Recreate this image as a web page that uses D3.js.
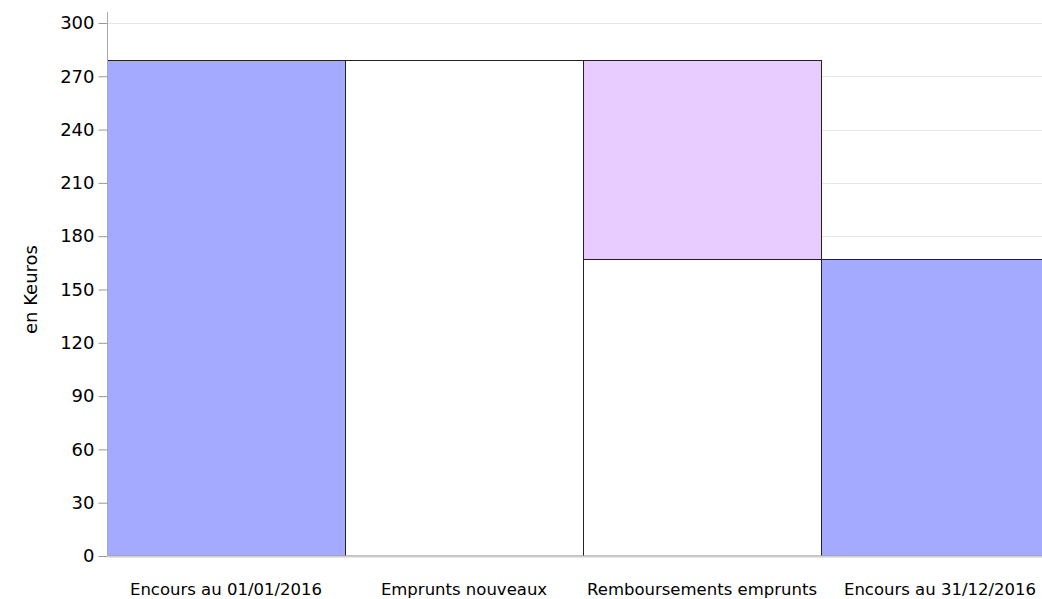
<!DOCTYPE html>
<html>
<head>
<meta charset="utf-8">
<script src="https://cdn.jsdelivr.net/npm/d3@7"></script>
<style>
  body { margin: 0; background: #fff; }
  text { font-family: "DejaVu Sans", sans-serif; fill: #000; }
</style>
</head>
<body>
<div id="chart"></div>
<script>
// data
const categories = ["Encours au 01/01/2016", "Emprunts nouveaux", "Remboursements emprunts", "Encours au 31/12/2016"];
const baseValues = [0, 279, 167, 0];    // white part under each step
const deltaValues = [279, 0, 112, 167]; // coloured part
const barColors = ["#a3aaff", "#ffffff", "#e8ccff", "#a3aaff"];
const yTicks = [0, 30, 60, 90, 120, 150, 180, 210, 240, 270, 300];

const w = 1042;
const h = 599;
const margin = { top: 23, left: 107, bottom: 43 };

const svg = d3.select("#chart")
  .append("svg")
  .attr("width", w)
  .attr("height", h);

const x = d3.scaleBand()
  .domain(categories)
  .range([margin.left, margin.left + 952])
  .padding(0);

const y = d3.scaleLinear()
  .domain([0, 300])
  .range([h - margin.bottom, margin.top]);

// grid
svg.append("g")
  .selectAll("line")
  .data(yTicks.slice(1))
  .join("line")
  .attr("x1", margin.left)
  .attr("x2", w)
  .attr("y1", d => Math.round(y(d)) + 0.5)
  .attr("y2", d => Math.round(y(d)) + 0.5)
  .attr("stroke", "#e6e6e6");

// base bars (white)
svg.append("g")
  .selectAll("rect")
  .data(categories)
  .join("rect")
  .attr("x", d => Math.round(x(d)) + 0.5)
  .attr("width", x.bandwidth())
  .attr("y", (d, i) => Math.round(y(baseValues[i])) + 0.5)
  .attr("height", (d, i) => y(0) - y(baseValues[i]))
  .attr("fill", "#fff")
  .attr("stroke", (d, i) => baseValues[i] > 0 ? "#222" : "none");

// delta bars (coloured)
svg.append("g")
  .selectAll("rect")
  .data(categories)
  .join("rect")
  .attr("x", d => Math.round(x(d)) + 0.5)
  .attr("width", x.bandwidth())
  .attr("y", (d, i) => Math.round(y(baseValues[i] + deltaValues[i])) + 0.5)
  .attr("height", (d, i) => y(baseValues[i]) - y(baseValues[i] + deltaValues[i]))
  .attr("fill", (d, i) => barColors[i])
  .attr("stroke", (d, i) => deltaValues[i] > 0 ? "#222" : "none");

// y axis
const yAxis = svg.append("g")
  .attr("transform", `translate(${margin.left + 0.5},0)`)
  .call(d3.axisLeft(y).tickValues(yTicks).tickSize(9).tickPadding(4));
yAxis.select(".domain").attr("stroke", "#aaa").attr("d", `M0,${margin.top - 11}V${y(0)}`);
yAxis.selectAll(".tick line").attr("stroke", "#999");
yAxis.selectAll(".tick text").style("font-size", "18px").attr("fill", "#000");

// baseline
svg.append("line")
  .attr("x1", margin.left)
  .attr("x2", w)
  .attr("y1", y(0) + 0.5)
  .attr("y2", y(0) + 0.5)
  .attr("stroke", "#ccc")
  .attr("stroke-width", 2);

// x labels
svg.append("g")
  .selectAll("text")
  .data(categories)
  .join("text")
  .attr("x", d => x(d) + x.bandwidth() / 2)
  .attr("y", h - 4)
  .attr("text-anchor", "middle")
  .style("font-size", "16.5px")
  .text(d => d);

// y title
svg.append("text")
  .attr("transform", `translate(37,${(margin.top + y(0)) / 2}) rotate(-90)`)
  .attr("text-anchor", "middle")
  .style("font-size", "18px")
  .text("en Keuros");
</script>
</body>
</html>
